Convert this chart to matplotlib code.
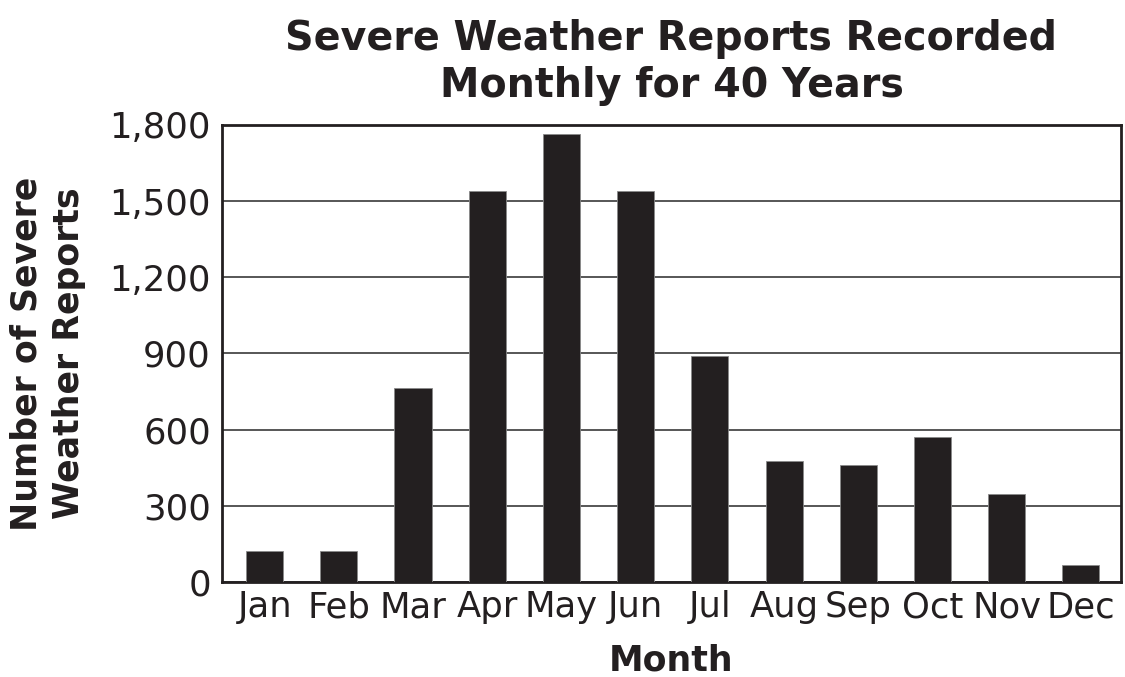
import matplotlib
matplotlib.use('Agg')
import matplotlib.pyplot as plt

months = ['Jan', 'Feb', 'Mar', 'Apr', 'May', 'Jun', 'Jul', 'Aug', 'Sep', 'Oct', 'Nov', 'Dec']
reports = [120, 120, 765, 1540, 1765, 1540, 890, 475, 460, 570, 345, 65]
yticks = [0, 300, 600, 900, 1200, 1500, 1800]
ytick_labels = ['0', '300', '600', '900', '1,200', '1,500', '1,800']

ink = '#231f20'
plt.rcParams['font.family'] = ['DejaVu Sans']

fig = plt.figure(figsize=(11.25, 6.77), dpi=100)
ax = fig.add_axes([0.1973, 0.1406, 0.7991, 0.6748])

x = range(len(months))
ax.bar(x, reports, width=0.5, color=ink, edgecolor='#8a8a8a', linewidth=0.6, zorder=3)

ax.set_ylim(0, 1800)
ax.set_xlim(-0.575, 11.54)
ax.set_yticks(yticks)
ax.set_yticklabels(ytick_labels)
ax.set_xticks(list(x))
ax.set_xticklabels(months)
ax.tick_params(length=0, labelsize=25.5, colors=ink, pad=8)
ax.tick_params(axis='x', pad=6)

ax.grid(axis='y', color='#3a3a3a', linewidth=1.2, zorder=1)
for s in ax.spines.values():
    s.set_linewidth(2)
    s.set_color(ink)

ax.set_title('Severe Weather Reports Recorded\nMonthly for 40 Years', fontsize=28.5,
             fontweight='bold', color=ink, pad=20, linespacing=1.22)
ax.set_xlabel('Month', fontsize=25, fontweight='bold', color=ink, labelpad=14)
ax.set_ylabel('Number of Severe\nWeather Reports', fontsize=25, fontweight='bold',
              color=ink, labelpad=17, linespacing=1.3)

fig.savefig('out.png', dpi=100)
